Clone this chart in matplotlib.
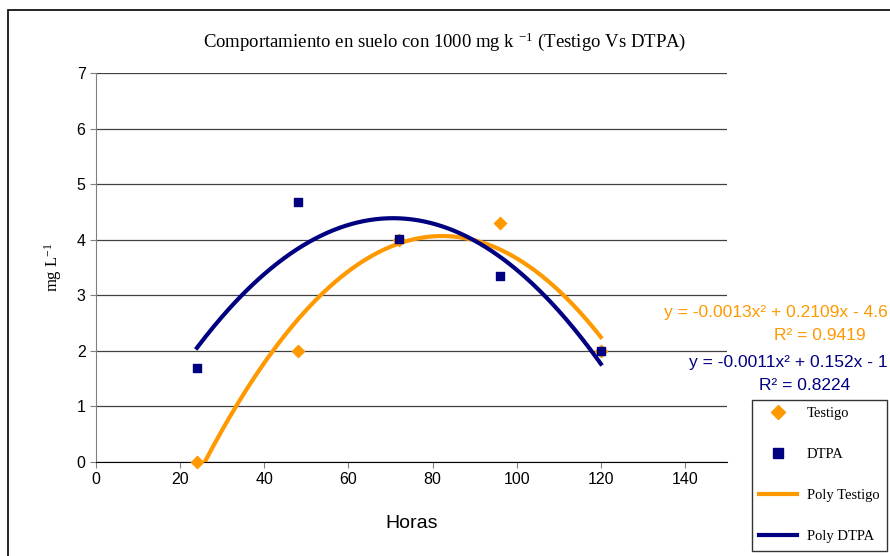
import matplotlib.pyplot as plt
import numpy as np
from matplotlib.patches import Rectangle
from matplotlib.lines import Line2D

# data
horas = [24, 48, 72, 96, 120]
testigo = [0.0, 2.0, 4.0, 4.3, 2.0]
dtpa = [1.7, 4.67, 4.02, 3.35, 2.0]

orange = "#FF9900"
navy = "#000080"

plt.rcParams["mathtext.fontset"] = "custom"
plt.rcParams["mathtext.rm"] = "Liberation Serif"
plt.rcParams["mathtext.it"] = "Liberation Serif:italic"

fig = plt.figure(figsize=(8.9, 5.56), dpi=100)
ax = fig.add_axes([96 / 890, 1 - 462 / 556, (727 - 96) / 890, (462 - 73) / 556])

# polynomial trend lines (order 2)
xs = np.linspace(min(horas), max(horas), 200)
pT = np.polyfit(horas, testigo, 2)
pD = np.polyfit(horas, dtpa, 2)
ax.plot(xs, np.polyval(pT, xs), color=orange, lw=3, zorder=3)
ax.plot(xs, np.polyval(pD, xs), color=navy, lw=3, zorder=3)

ax.scatter(horas, testigo, marker="D", s=38, color=orange, zorder=4, clip_on=False)
ax.scatter(horas, dtpa, marker="s", s=38, color=navy, zorder=5, clip_on=False)

ax.set_xlim(0, 150)
ax.set_ylim(0, 7)
ax.set_xticks(range(0, 141, 20))
ax.set_yticks(range(0, 8))
ax.grid(axis="y", color="#404040", lw=0.9)
ax.set_axisbelow(True)
for s in ["top", "right"]:
    ax.spines[s].set_visible(False)
ax.spines["left"].set_color("#808080")
ax.spines["bottom"].set_color("black")
ax.tick_params(axis="both", labelsize=11.5, length=4, color="#808080", direction="out")
for lab in ax.get_xticklabels() + ax.get_yticklabels():
    lab.set_family("Liberation Sans")

ax.set_xlabel("Horas", fontsize=14, family="Liberation Sans")
ax.xaxis.set_label_coords(0.5, -0.135)
ax.set_ylabel("mg L$^{-1}$", fontsize=12, family="Liberation Serif")
ax.yaxis.set_label_coords(-0.05, 0.5)

fig.text(0.5, 1 - 42 / 556, "Comportamiento en suelo con 1000 mg k $^{-1}$ (Testigo Vs DTPA)",
         ha="center", va="center", fontsize=13.5, family="Liberation Serif")

# trend line equations
eq_font = dict(fontsize=12.5, family="Liberation Sans", va="center")
fig.text(888 / 890, 1 - 313 / 556, "y = -0.0013x² + 0.2109x - 4.6", color=orange, ha="right", **eq_font)
fig.text(820 / 890, 1 - 335 / 556, "R² = 0.9419", color=orange, ha="center", **eq_font)
fig.text(888 / 890, 1 - 363 / 556, "y = -0.0011x² + 0.152x - 1", color=navy, ha="right", **eq_font)
fig.text(805 / 890, 1 - 385 / 556, "R² = 0.8224", color=navy, ha="center", **eq_font)

# chart border
fig.patches.append(Rectangle((8 / 890, -0.1), 1.2, 1 - 10 / 556 + 0.1, transform=fig.transFigure,
                             fill=False, edgecolor="black", lw=1.2))

handles = [
    Line2D([], [], marker="D", color=orange, ls="none", markersize=7),
    Line2D([], [], marker="s", color=navy, ls="none", markersize=7),
    Line2D([], [], color=orange, lw=3),
    Line2D([], [], color=navy, lw=3),
]
labels = ["Testigo", "DTPA", "Poly Testigo", "Poly DTPA"]
leg = fig.legend(handles, labels, loc="upper left", bbox_to_anchor=(752 / 890, 1 - 400 / 556),
                 frameon=True, fancybox=False, edgecolor="black",
                 prop={"family": "Liberation Serif", "size": 10.5},
                 labelspacing=1.9, handlelength=2.6, handletextpad=0.65,
                 borderpad=0.5, borderaxespad=0)
leg.get_frame().set_linewidth(1)

fig.savefig("out.png", dpi=100)
